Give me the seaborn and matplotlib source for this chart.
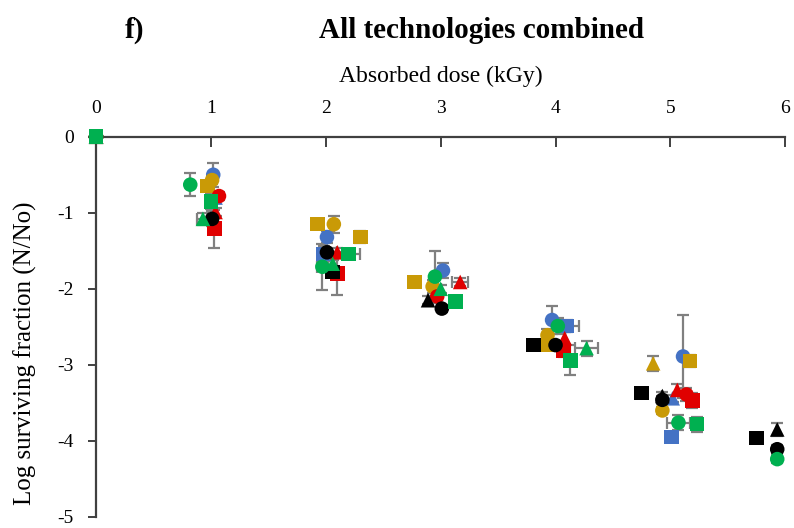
import matplotlib
matplotlib.use("Agg")
import matplotlib.pyplot as plt
import seaborn as sns
import pandas as pd

# ---- data ----
group = (["blue"] * 6 + ["blue"] * 4 + ["blue"] * 3 +
         ["gold"] * 7 + ["gold"] * 6 + ["gold"] * 2 +
         ["red"] * 4 + ["red"] * 5 + ["red"] * 6 +
         ["black"] * 7 + ["black"] * 5 + ["black"] * 4 +
         ["green"] * 5 + ["green"] * 6 + ["green"] * 7)
shape = (["circle"] * 6 + ["square"] * 4 + ["triangle"] * 3 +
         ["square"] * 7 + ["circle"] * 6 + ["triangle"] * 2 +
         ["circle"] * 4 + ["square"] * 5 + ["triangle"] * 6 +
         ["circle"] * 7 + ["square"] * 5 + ["triangle"] * 4 +
         ["triangle"] * 5 + ["square"] * 6 + ["circle"] * 7)
dose = [0, 1.02, 2.01, 3.02, 3.97, 5.11,
        0, 1.98, 4.10, 5.01,
        0, 1.04, 5.02,
        0, 0.97, 1.93, 2.30, 2.77, 3.93, 5.17,
        0, 1.01, 2.07, 2.93, 3.93, 4.93,
        0, 4.85,
        0, 1.07, 2.97, 5.14,
        0, 1.03, 2.10, 4.07, 5.19,
        0, 1.04, 2.10, 3.17, 4.08, 5.06,
        0, 1.01, 2.01, 3.01, 4.00, 4.93, 5.93,
        0, 2.06, 3.81, 4.75, 5.75,
        0, 2.89, 4.93, 5.93,
        0, 0.93, 2.06, 3.00, 4.27,
        0, 1.00, 2.20, 3.13, 4.13, 5.23,
        0, 0.82, 1.97, 2.95, 4.02, 5.07, 5.93]
log_sf = [0, -0.50, -1.32, -1.76, -2.41, -2.89,
          0, -1.54, -2.49, -3.95,
          0, -0.80, -3.44,
          0, -0.65, -1.15, -1.32, -1.91, -2.74, -2.95,
          0, -0.57, -1.15, -1.97, -2.61, -3.60,
          0, -2.98,
          0, -0.78, -2.10, -3.39,
          0, -1.21, -1.80, -2.82, -3.47,
          0, -0.99, -1.52, -1.91, -2.65, -3.33,
          0, -1.08, -1.52, -2.26, -2.74, -3.46, -4.11,
          0, -1.78, -2.74, -3.37, -3.96,
          0, -2.15, -3.41, -3.85,
          0, -1.08, -1.67, -2.00, -2.78,
          0, -0.85, -1.54, -2.17, -2.94, -3.78,
          0, -0.63, -1.71, -1.84, -2.49, -3.76, -4.24]
sd_y = [0, 0.16, 0.08, 0.10, 0.18, 0.54,
        0, 0.10, 0.08, 0.05,
        0, 0.05, 0.05,
        0, 0.05, 0.05, 0.08, 0.05, 0.05, 0.08,
        0, 0.05, 0.11, 0.08, 0.08, 0.05,
        0, 0.10,
        0, 0.05, 0.08, 0.08,
        0, 0.25, 0.28, 0.08, 0.10,
        0, 0.05, 0.06, 0.05, 0.08, 0.08,
        0, 0.10, 0.05, 0.05, 0.05, 0.05, 0.05,
        0, 0.05, 0.05, 0.05, 0.05,
        0, 0.05, 0.05, 0.08,
        0, 0.08, 0.05, 0.05, 0.10,
        0, 0.10, 0.05, 0.05, 0.20, 0.10,
        0, 0.15, 0.30, 0.34, 0.10, 0.10, 0.05]
sd_x = [0, 0, 0, 0, 0, 0,
        0, 0, 0.10, 0,
        0, 0, 0,
        0, 0, 0, 0, 0, 0, 0,
        0, 0, 0, 0, 0, 0,
        0, 0,
        0, 0, 0, 0,
        0, 0, 0, 0, 0,
        0, 0, 0, 0.07, 0, 0,
        0, 0.03, 0, 0, 0, 0, 0,
        0, 0, 0, 0, 0,
        0, 0, 0, 0,
        0, 0.05, 0, 0, 0.10,
        0, 0, 0.10, 0, 0, 0,
        0, 0, 0.05, 0, 0, 0.10, 0]

palette = {"blue": "#4472C4", "gold": "#C99A06", "red": "#E00000",
           "black": "#000000", "green": "#00B050"}
markers = {"circle": "o", "square": "s", "triangle": "^"}

df = pd.DataFrame({"group": group, "shape": shape, "dose": dose,
                   "log_sf": log_sf, "sd_y": sd_y, "sd_x": sd_x})

sns.set_theme(style="white")
plt.rcParams["font.family"] = ["Liberation Serif", "DejaVu Serif"]
plt.rcParams["axes.unicode_minus"] = False
plt.rcParams["text.color"] = "black"
plt.rcParams["axes.labelcolor"] = "black"
plt.rcParams["xtick.color"] = "black"
plt.rcParams["ytick.color"] = "black"

fig = plt.figure(figsize=(7.94, 5.28), dpi=100)
ax = fig.add_axes([0.121, 0.021, 0.868, 0.720])

ax.errorbar(df["dose"], df["log_sf"], yerr=df["sd_y"], xerr=df["sd_x"],
            fmt="none", ecolor="#808080", elinewidth=1.6, capsize=4,
            capthick=1.6, zorder=2, clip_on=False)
sns.scatterplot(data=df, x="dose", y="log_sf", hue="group", style="shape",
                palette=palette, markers=markers, s=110, linewidth=0,
                legend=False, ax=ax, zorder=3, clip_on=False)

ax.set_xlim(0, 6)
ax.set_ylim(-5, 0)
ax.set_xticks(range(0, 7))
ax.set_yticks(range(-5, 1))
ax.xaxis.tick_top()
ax.xaxis.set_label_position("top")
for side in ["bottom", "right"]:
    ax.spines[side].set_visible(False)
for side in ["top", "left"]:
    ax.spines[side].set_color("#404040")
    ax.spines[side].set_linewidth(1.6)
ax.tick_params(axis="x", top=True, direction="in", length=7, width=1.4,
               color="#404040", labelcolor="black", pad=14, labelsize=14)
ax.tick_params(axis="y", left=True, direction="out", length=6, width=1.4,
               color="#404040", labelcolor="black", pad=10, labelsize=14)
ax.set_xlabel("Absorbed dose (kGy)", fontsize=17, labelpad=13)
ax.set_ylabel("Log surviving fraction (N/No)", fontsize=18)
ax.yaxis.set_label_coords(-0.085, 0.43)

fig.text(0.17, 0.943, "f)", fontsize=21, fontweight="bold", ha="center", va="center")
fig.text(0.607, 0.943, "All technologies combined", fontsize=21,
         fontweight="bold", ha="center", va="center")

fig.savefig("out.png", dpi=100)
